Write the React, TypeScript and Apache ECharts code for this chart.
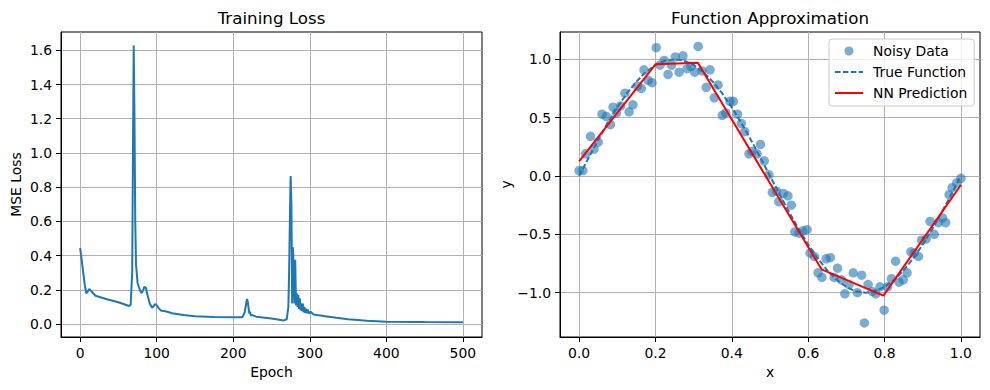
import React, { useEffect, useRef } from "react";
import * as echarts from "echarts";

// ---- Training loss (left panel) ----
const lossEpochs = [
  0, 1, 3, 6, 8, 10, 12, 14, 17, 20, 35, 50, 64, 66, 68, 69, 70, 71, 72, 73, 75, 78, 80, 82, 84, 86, 88, 91, 94, 96,
  98, 100, 103, 106, 110, 115, 120, 135, 150, 175, 200, 212, 215, 218, 219, 221, 222, 223, 225, 230, 250, 266, 270,
  272, 273, 274, 275, 276, 277, 278, 279, 280, 281, 282, 283, 284, 285, 286, 287, 288, 289, 290, 291, 292, 293, 294,
  295, 296, 297, 299, 301, 305, 310, 320, 335, 350, 375, 400, 450, 500,
];
const lossValues = [
  0.444, 0.41, 0.34, 0.23, 0.18, 0.19, 0.205, 0.195, 0.18, 0.165, 0.145, 0.127, 0.105, 0.112, 0.3, 1.0, 1.628, 1.2,
  0.6, 0.35, 0.24, 0.2, 0.18, 0.195, 0.218, 0.21, 0.17, 0.12, 0.095, 0.105, 0.117, 0.11, 0.09, 0.077, 0.076, 0.07,
  0.063, 0.052, 0.046, 0.041, 0.039, 0.039, 0.07, 0.146, 0.13, 0.06, 0.072, 0.05, 0.052, 0.043, 0.032, 0.021, 0.028,
  0.1, 0.3, 0.6, 0.865, 0.7, 0.12, 0.449, 0.32, 0.12, 0.375, 0.11, 0.18, 0.1, 0.17, 0.088, 0.15, 0.08, 0.12, 0.075,
  0.12, 0.068, 0.1, 0.065, 0.09, 0.062, 0.085, 0.06, 0.072, 0.056, 0.052, 0.045, 0.036, 0.028, 0.019, 0.013, 0.011,
  0.01,
];
const lossXTicks = [0, 100, 200, 300, 400, 500];
const lossYTicks = [0, 0.2, 0.4, 0.6, 0.8, 1.0, 1.2, 1.4, 1.6];

// ---- Function approximation (right panel) ----
const noisyX = [
  0.0, 0.01, 0.017, 0.03, 0.039, 0.05, 0.06, 0.071, 0.082, 0.089, 0.098, 0.109, 0.12, 0.131, 0.141, 0.153, 0.163,
  0.17, 0.181, 0.191, 0.202, 0.212, 0.223, 0.233, 0.242, 0.252, 0.262, 0.272, 0.283, 0.293, 0.303, 0.312, 0.322,
  0.333, 0.343, 0.354, 0.364, 0.375, 0.384, 0.395, 0.404, 0.415, 0.425, 0.434, 0.445, 0.453, 0.466, 0.475, 0.485,
  0.497, 0.506, 0.517, 0.523, 0.535, 0.547, 0.556, 0.565, 0.576, 0.586, 0.597, 0.605, 0.616, 0.626, 0.636, 0.647,
  0.658, 0.668, 0.677, 0.687, 0.696, 0.707, 0.718, 0.729, 0.74, 0.747, 0.757, 0.768, 0.777, 0.788, 0.799, 0.808,
  0.818, 0.829, 0.838, 0.849, 0.859, 0.869, 0.878, 0.889, 0.897, 0.909, 0.919, 0.93, 0.941, 0.952, 0.96, 0.969,
  0.977, 0.989, 1.0,
];
const noisyY = [
  0.046, 0.046, 0.19, 0.34, 0.23, 0.29, 0.53, 0.51, 0.44, 0.59, 0.54, 0.6, 0.71, 0.55, 0.61, 0.77, 0.75, 0.91, 0.82,
  0.8, 1.1, 0.95, 0.99, 0.87, 0.95, 1.02, 0.89, 1.03, 0.92, 0.94, 0.89, 1.11, 0.9, 0.76, 0.91, 0.67, 0.78, 0.52,
  0.54, 0.64, 0.64, 0.53, 0.45, 0.38, 0.19, 0.21, 0.19, 0.27, 0.13, 0.01, -0.14, -0.13, -0.22, -0.15, -0.17, -0.25,
  -0.48, -0.49, -0.47, -0.46, -0.66, -0.69, -0.83, -0.87, -0.71, -0.7, -0.87, -0.79, -0.89, -1.01, -0.93, -0.83,
  -1.0, -0.85, -1.26, -0.93, -0.99, -1.01, -0.95, -1.15, -0.95, -0.88, -0.73, -0.91, -0.89, -0.83, -0.65, -0.66,
  -0.69, -0.55, -0.54, -0.39, -0.5, -0.4, -0.36, -0.4, -0.16, -0.1, -0.06, -0.02,
];
const trueX = [
  0, 0.025, 0.05, 0.075, 0.1, 0.125, 0.15, 0.175, 0.2, 0.225, 0.25, 0.275, 0.3, 0.325, 0.35, 0.375, 0.4, 0.425, 0.45,
  0.475, 0.5, 0.525, 0.55, 0.575, 0.6, 0.625, 0.65, 0.675, 0.7, 0.725, 0.75, 0.775, 0.8, 0.825, 0.85, 0.875, 0.9,
  0.925, 0.95, 0.975, 1.0,
];
const trueY = [
  0, 0.156, 0.309, 0.454, 0.588, 0.707, 0.809, 0.891, 0.951, 0.988, 1.0, 0.988, 0.951, 0.891, 0.809, 0.707, 0.588,
  0.454, 0.309, 0.156, 0, -0.156, -0.309, -0.454, -0.588, -0.707, -0.809, -0.891, -0.951, -0.988, -1.0, -0.988,
  -0.951, -0.891, -0.809, -0.707, -0.588, -0.454, -0.309, -0.156, 0,
];
const nnX = [0, 0.2, 0.311, 0.635, 0.797, 1.0];
const nnY = [0.126, 0.957, 0.971, -0.8, -1.026, -0.077];
const fnXTicks = [0, 0.2, 0.4, 0.6, 0.8, 1.0];
const fnYTicks = [-1.0, -0.5, 0, 0.5, 1.0];

const FONT = "DejaVu Sans";
const TICK_FS = 13.9;

const zip = (xs: number[], ys: number[]) => xs.map((x, i) => [x, ys[i]]);

function axisCommon(ticks: number[], fmt: (v: number) => string) {
  return {
    axisLine: { show: true, onZero: false, lineStyle: { color: "#000", width: 1 } },
    axisTick: { show: true, inside: false, length: 5, lineStyle: { color: "#000", width: 1 }, customValues: ticks },
    axisLabel: {
      show: true,
      customValues: ticks,
      margin: 9,
      color: "#000",
      fontFamily: FONT,
      fontSize: TICK_FS,
      formatter: (v: number) => fmt(v),
    },
    splitLine: { show: true, lineStyle: { color: "#b0b0b0", width: 1 } },
    nameTextStyle: { color: "#000", fontFamily: FONT, fontSize: TICK_FS },
    nameLocation: "middle" as const,
  };
}

const minus = (s: string) => s.replace("-", "\u2212");

export default function App() {
  const ref = useRef<HTMLDivElement>(null);
  useEffect(() => {
    if (!ref.current) return;
    const chart = echarts.init(ref.current, undefined, { renderer: "svg" });
    const option: any = {
      animation: false,
      backgroundColor: "#fff",
      textStyle: { fontFamily: FONT },
      graphic: [
        {
          type: "text",
          x: 271.5,
          y: 18,
          style: { text: "Training Loss", fontFamily: FONT, fontSize: 16.7, fill: "#000", align: "center", verticalAlign: "middle" },
        },
        {
          type: "text",
          x: 770,
          y: 18,
          style: { text: "Function Approximation", fontFamily: FONT, fontSize: 16.7, fill: "#000", align: "center", verticalAlign: "middle" },
        },
      ],
      grid: [
        { left: 61, top: 32, width: 421, height: 305, show: true, borderColor: "#000", borderWidth: 1, containLabel: false },
        { left: 560, top: 32, width: 420, height: 305, show: true, borderColor: "#000", borderWidth: 1, containLabel: false },
      ],
      xAxis: [
        {
          type: "value",
          gridIndex: 0,
          min: -25,
          max: 525,
          name: "Epoch",
          nameGap: 27,
          ...axisCommon(lossXTicks, (v) => String(Math.round(v))),
        },
        {
          type: "value",
          gridIndex: 1,
          min: -0.05,
          max: 1.05,
          name: "x",
          nameGap: 27,
          ...axisCommon(fnXTicks, (v) => v.toFixed(1)),
        },
      ],
      yAxis: [
        {
          type: "value",
          gridIndex: 0,
          min: -0.076,
          max: 1.707,
          name: "MSE Loss",
          nameGap: 38,
          ...axisCommon(lossYTicks, (v) => v.toFixed(1)),
        },
        {
          type: "value",
          gridIndex: 1,
          min: -1.38,
          max: 1.234,
          name: "y",
          nameGap: 47,
          ...axisCommon(fnYTicks, (v) => minus(v.toFixed(1))),
        },
      ],
      legend: {
        show: true,
        orient: "vertical",
        left: 829,
        top: 39,
        padding: [5, 7, 6, 5],
        itemWidth: 28,
        itemHeight: 9,
        itemGap: 7,
        backgroundColor: "rgba(255,255,255,0.8)",
        borderColor: "#cccccc",
        borderWidth: 1,
        borderRadius: 3,
        textStyle: { color: "#000", fontFamily: FONT, fontSize: TICK_FS, lineHeight: 14, padding: [0, 0, 0, 5] },
        data: [
          { name: "Noisy Data" },
          { name: "True Function", itemStyle: { opacity: 0 } },
          { name: "NN Prediction", itemStyle: { opacity: 0 } },
        ],
      },
      series: [
        {
          type: "line",
          name: "Loss",
          xAxisIndex: 0,
          yAxisIndex: 0,
          data: zip(lossEpochs, lossValues),
          symbol: "none",
          lineStyle: { color: "#1f77b4", width: 2 },
          itemStyle: { color: "#1f77b4" },
        },
        {
          type: "scatter",
          name: "Noisy Data",
          xAxisIndex: 1,
          yAxisIndex: 1,
          data: zip(noisyX, noisyY),
          symbol: "circle",
          symbolSize: 9.5,
          itemStyle: { color: "#1f77b4", opacity: 0.6 },
        },
        {
          type: "line",
          name: "True Function",
          xAxisIndex: 1,
          yAxisIndex: 1,
          data: zip(trueX, trueY),
          symbol: "none",
          smooth: false,
          lineStyle: { color: "#1f77b4", width: 2, type: [5.5, 2.4] },
          itemStyle: { color: "#1f77b4" },
        },
        {
          type: "line",
          name: "NN Prediction",
          xAxisIndex: 1,
          yAxisIndex: 1,
          data: zip(nnX, nnY),
          symbol: "none",
          lineStyle: { color: "#ff0000", width: 2 },
          itemStyle: { color: "#ff0000" },
        },
      ],
    };
    chart.setOption(option);
    return () => chart.dispose();
  }, []);
  return <div ref={ref} style={{ position: "absolute", left: 0, top: 0, width: 990, height: 390 }} />;
}
